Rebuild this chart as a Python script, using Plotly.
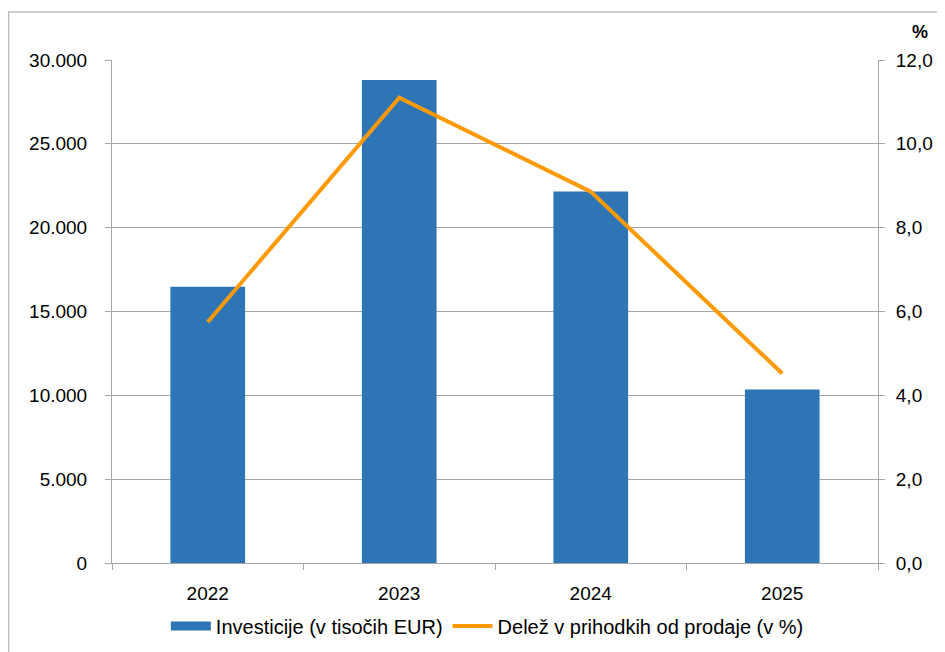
import plotly.graph_objects as go

# data
years = ["2022", "2023", "2024", "2025"]
investicije = [16480, 28800, 22150, 10350]   # v tisočih EUR
delez = [5.75, 11.1, 8.86, 4.52]             # v %

BAR_COLOR = "#2E75B6"
LINE_COLOR = "#FF9900"
AXIS_GRAY = "#A6A6A6"
FONT = "Liberation Sans, Arial, sans-serif"

fig = go.Figure()

# bars on the left axis (legend swatch drawn by the dummy trace below)
fig.add_trace(go.Bar(
    x=years,
    y=investicije,
    name="Investicije (v tisočih EUR)",
    marker=dict(color=BAR_COLOR, line=dict(width=0)),
    width=0.39,
    showlegend=False,
))

# wide flat swatch for the bar series, like the original legend
fig.add_trace(go.Scatter(
    x=[None], y=[None],
    name="Investicije (v tisočih EUR)",
    mode="lines",
    line=dict(color=BAR_COLOR, width=9),
))

# share line on the right axis
fig.add_trace(go.Scatter(
    x=years,
    y=delez,
    name="Delež v prihodkih od prodaje (v %)",
    mode="lines",
    line=dict(color=LINE_COLOR, width=4),
    yaxis="y2",
))

# page body has an 8px margin, so the figure is made 8px smaller
fig.update_layout(
    width=937,
    height=644,
    margin=dict(l=104, r=67, t=52, b=89, autoexpand=False),
    paper_bgcolor="white",
    plot_bgcolor="white",
    separators=",.",
    font=dict(family=FONT, size=19, color="black"),
    showlegend=True,
    legend=dict(
        orientation="h",
        x=0.49, xanchor="center",
        y=-0.125, yanchor="middle",
        font=dict(size=20),
        itemwidth=40,
        traceorder="normal",
    ),
    xaxis=dict(
        showline=True, linecolor=AXIS_GRAY, linewidth=1,
        ticks="outside", tickson="boundaries", ticklen=6, tickcolor=AXIS_GRAY,
        ticklabelstandoff=13,
        showgrid=False,
    ),
    yaxis=dict(
        range=[0, 30000], dtick=5000, tickformat=",d",
        showline=True, linecolor=AXIS_GRAY, linewidth=1,
        ticks="outside", ticklen=6, tickcolor=AXIS_GRAY,
        ticklabelstandoff=14,
        showgrid=True, gridcolor=AXIS_GRAY, gridwidth=1,
        zeroline=False,
    ),
    yaxis2=dict(
        range=[0, 12], dtick=2, tickformat=".1f",
        overlaying="y", side="right",
        showline=True, linecolor=AXIS_GRAY, linewidth=1,
        ticks="outside", ticklen=6, tickcolor=AXIS_GRAY,
        ticklabelstandoff=7,
        showgrid=False, zeroline=False,
    ),
    annotations=[dict(
        text="<b>%</b>", xref="paper", yref="paper",
        x=1.055, y=1.056, xanchor="center", yanchor="middle",
        showarrow=False, font=dict(size=18),
    )],
    shapes=[dict(
        type="rect", xref="paper", yref="paper",
        x0=-0.135, x1=1.3, y0=-0.4, y1=1.0955,
        line=dict(color="#BFBFBF", width=1.5),
        layer="below",
    )],
)

fig.write_html("out.html")
